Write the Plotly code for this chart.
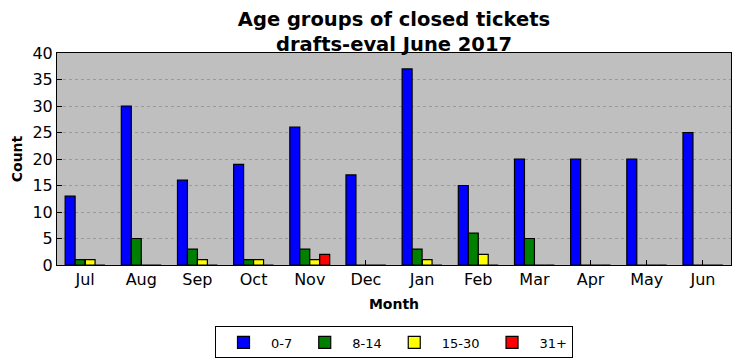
import plotly.graph_objects as go

months = ["Jul", "Aug", "Sep", "Oct", "Nov", "Dec", "Jan", "Feb", "Mar", "Apr", "May", "Jun"]
s_0_7 = [13, 30, 16, 19, 26, 17, 37, 15, 20, 20, 20, 25]
s_8_14 = [1, 5, 3, 1, 3, 0, 3, 6, 5, 0, 0, 0]
s_15_30 = [1, 0, 1, 1, 1, 0, 1, 2, 0, 0, 0, 0]
s_31p = [0, 0, 0, 0, 2, 0, 0, 0, 0, 0, 0, 0]

series = [("0-7", s_0_7, "#0000ff"), ("8-14", s_8_14, "#008000"),
          ("15-30", s_15_30, "#ffff00"), ("31+", s_31p, "#ff0000")]

font = "DejaVu Sans"
fig = go.Figure()
for name, vals, col in series:
    fig.add_trace(go.Bar(x=months, y=vals, name=name,
                         marker=dict(color=col, line=dict(color="black", width=1.2))))

fig.update_layout(
    width=733, height=353,
    barmode="group", bargap=0.29, bargroupgap=0,
    paper_bgcolor="white", plot_bgcolor="#bfbfbf",
    margin=dict(l=49, r=10, t=45, b=96, autoexpand=False),
    font=dict(family=font, color="black"),
    title=dict(text="<b>Age groups of closed tickets<br>drafts-eval June 2017</b>",
               x=0.5, xanchor="center", xref="paper", yref="container", y=0.95, yanchor="top",
               font=dict(size=19.5, family=font)),
    legend=dict(orientation="h", x=0.5, xanchor="center", y=-0.29, yanchor="top",
                bordercolor="black", borderwidth=1, font=dict(size=13),
                itemwidth=45, traceorder="normal"),
)
fig.update_xaxes(
    range=[-0.5, 11.5], showline=True, linecolor="black", linewidth=1, mirror=True,
    ticks="inside", ticklen=5, tickcolor="black", showgrid=False, automargin=False,
    tickfont=dict(size=16), title=dict(text="<b>Month</b>", font=dict(size=14), standoff=10),
)
fig.update_yaxes(
    range=[0, 40], dtick=5, showline=True, linecolor="black", linewidth=1, mirror=True,
    ticks="inside", ticklen=5, tickcolor="black", automargin=False,
    showgrid=True, gridcolor="#999999", griddash="dot", gridwidth=1, zeroline=False,
    tickfont=dict(size=16), title=dict(text="<b>Count</b>", font=dict(size=14), standoff=6),
)
fig.write_html("out.html")
